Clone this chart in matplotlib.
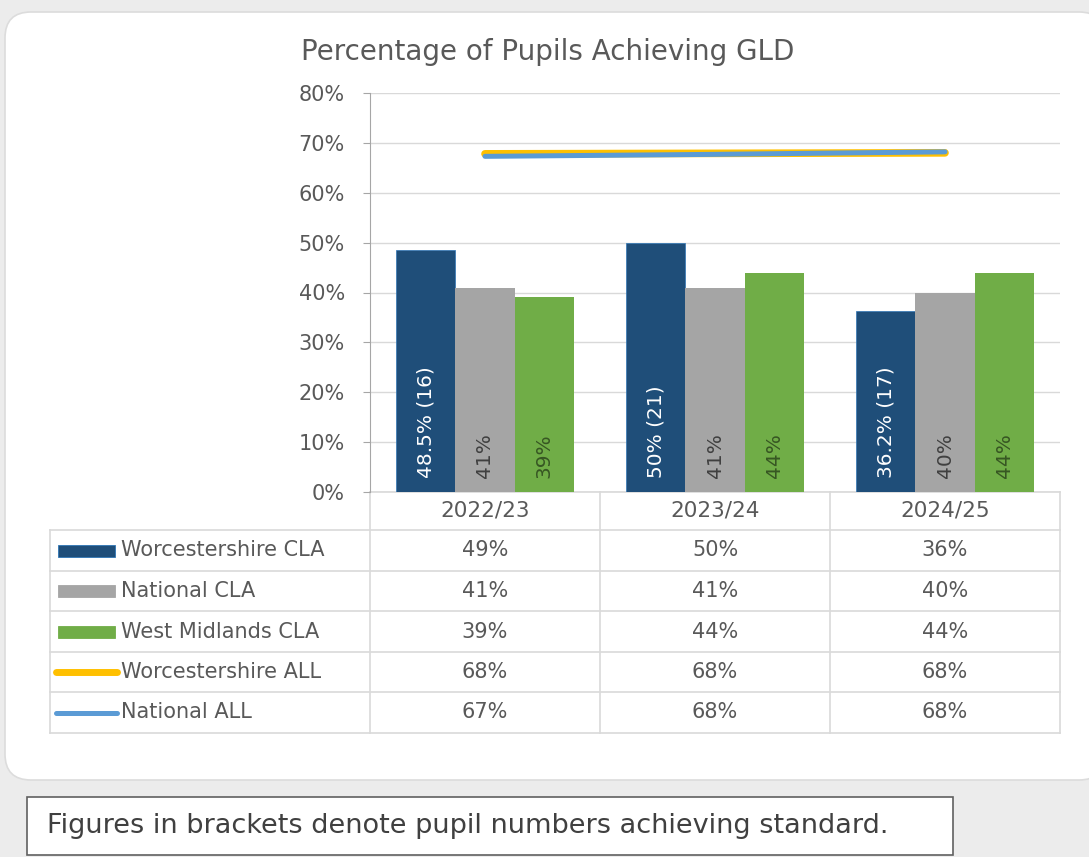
import math
import matplotlib.pyplot as plt
from matplotlib.patches import FancyBboxPatch, Rectangle
from matplotlib.lines import Line2D

plt.rcParams['font.family'] = ['DejaVu Sans']

# Data
years = ['2022/23', '2023/24', '2024/25']
worcs_cla = [48.5, 50.0, 36.2]
worcs_cla_pupils = [16, 21, 17]
national_cla = [41, 41, 40]
west_mid_cla = [39, 44, 44]
worcs_all = [67.8, 67.9, 68.0]
national_all = [67.3, 67.7, 68.2]

series_names = ['Worcestershire CLA', 'National CLA', 'West Midlands CLA',
                'Worcestershire ALL', 'National ALL']
series_vals = [worcs_cla, national_cla, west_mid_cla, worcs_all, national_all]

c_navy = '#1f4e79'
c_grey = '#a5a5a5'
c_green = '#70ad47'
c_yellow = '#ffc000'
c_blue = '#5b9bd5'
txt = '#595959'
grid = '#d9d9d9'

W, H = 1089, 857
fig = plt.figure(figsize=(W / 100, H / 100), dpi=100)
fig.patch.set_facecolor('#ececec')

# pixel overlay for card, table and note
bg = fig.add_axes([0, 0, 1, 1], zorder=0)
bg.set_xlim(0, W)
bg.set_ylim(H, 0)
bg.axis('off')
bg.add_patch(FancyBboxPatch((5, 12), 1100, 768, boxstyle='round,pad=0,rounding_size=26',
                            facecolor='white', edgecolor='#dcdcdc', linewidth=1.2))

# chart axes
x0, x1, ytop, ybot = 370, 1060, 93, 492
ax = fig.add_axes([x0 / W, 1 - ybot / H, (x1 - x0) / W, (ybot - ytop) / H], zorder=1)
ax.set_facecolor('none')
ax.set_xlim(-0.5, 2.5)
ax.set_ylim(0, 80)
ax.set_yticks(range(0, 81, 10))
ax.set_yticklabels([f'{v}%' for v in range(0, 81, 10)], color=txt, fontsize=15)
ax.yaxis.grid(True, color=grid, linewidth=1)
ax.set_axisbelow(True)
ax.set_xticks([])
for s in ['top', 'right', 'bottom']:
    ax.spines[s].set_visible(False)
ax.spines['left'].set_color('#a6a6a6')
ax.tick_params(axis='y', length=5, color='#a6a6a6', pad=13)

bw = 0.257
xs = list(range(len(years)))
ax.bar([x - bw for x in xs], worcs_cla, bw, color=c_navy, edgecolor='#2e75b6', linewidth=0.5)
ax.bar(xs, national_cla, bw, color=c_grey)
ax.bar([x + bw for x in xs], west_mid_cla, bw, color=c_green)

for i, x in enumerate(xs):
    lab = f'{worcs_cla[i]:g}% ({worcs_cla_pupils[i]})'
    ax.text(x - bw, 2.8, lab, rotation=90, ha='center', va='bottom', color='white', fontsize=14.5)
    ax.text(x, 2.8, f'{national_cla[i]}%', rotation=90, ha='center', va='bottom', color='#404040', fontsize=14.5)
    ax.text(x + bw, 2.8, f'{west_mid_cla[i]}%', rotation=90, ha='center', va='bottom', color='#375623', fontsize=14.5)

ax.plot(xs, worcs_all, color=c_yellow, linewidth=5.5, solid_capstyle='round', zorder=3)
ax.plot(xs, national_all, color=c_blue, linewidth=3.6, solid_capstyle='round', zorder=4)

fig.text(548 / W, 1 - 52 / H, 'Percentage of Pupils Achieving GLD', ha='center', va='center',
         color=txt, fontsize=20)

# data table
tl, col_edges = 50, [370, 600, 830, 1060]
row_edges = [530, 571, 611, 652, 692, 733]
lk = dict(color=grid, linewidth=1.2)
for xe in col_edges:
    bg.add_line(Line2D([xe, xe], [492, row_edges[-1]], **lk))
bg.add_line(Line2D([tl, tl], [row_edges[0], row_edges[-1]], **lk))
bg.add_line(Line2D([col_edges[0], col_edges[-1]], [492, 492], **lk))
for ye in row_edges:
    bg.add_line(Line2D([tl, col_edges[-1]], [ye, ye], **lk))

col_c = [(col_edges[i] + col_edges[i + 1]) / 2 for i in range(3)]
for i, yr in enumerate(years):
    bg.text(col_c[i], 511, yr, ha='center', va='center', color=txt, fontsize=15.5)

def pct(v):
    return f'{math.floor(v + 0.5)}%'

for r, (name, vals) in enumerate(zip(series_names, series_vals)):
    yc = (row_edges[r] + row_edges[r + 1]) / 2
    if r < 3:
        col = [c_navy, c_grey, c_green][r]
        bg.add_patch(Rectangle((58, yc - 6), 57, 12, facecolor=col,
                               edgecolor='#2e75b6' if r == 0 else col, linewidth=0.6))
    else:
        col = [c_yellow, c_blue][r - 3]
        bg.add_line(Line2D([56, 117], [yc, yc], color=col,
                           linewidth=5 if r == 3 else 3.6, solid_capstyle='round'))
    bg.text(121, yc, name, ha='left', va='center', color=txt, fontsize=15)
    for i, v in enumerate(vals):
        bg.text(col_c[i], yc, pct(v), ha='center', va='center', color=txt, fontsize=15)

# note box
bg.add_patch(Rectangle((27, 797), 926, 58, facecolor='white', edgecolor='#606060', linewidth=1.2))
bg.text(47, 826, 'Figures in brackets denote pupil numbers achieving standard.',
        ha='left', va='center', color='#404040', fontsize=19.5)

fig.savefig('out.png', dpi=100, facecolor=fig.get_facecolor())
